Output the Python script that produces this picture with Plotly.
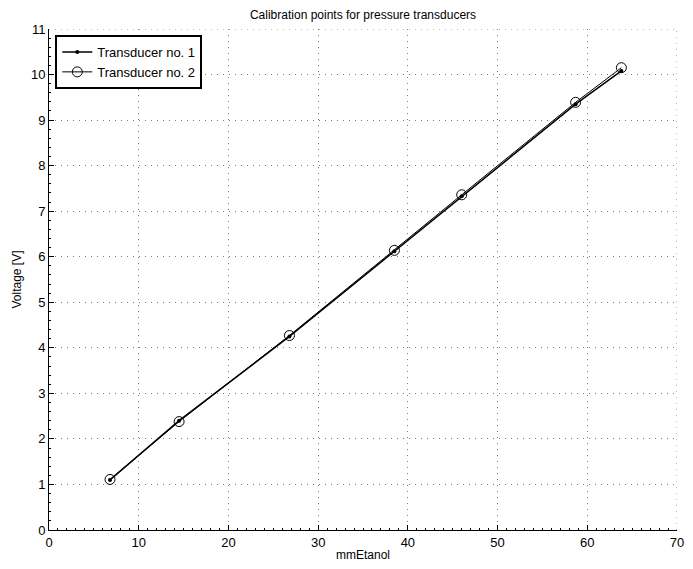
import plotly.graph_objects as go

# Calibration readings: height of ethanol column vs transducer output
mm_etanol = [6.8, 14.5, 26.8, 38.5, 46.0, 58.7, 63.8]
voltage_t1 = [1.10, 2.40, 4.25, 6.12, 7.33, 9.35, 10.08]
voltage_t2 = [1.11, 2.38, 4.27, 6.14, 7.36, 9.39, 10.15]

x_ticks = [0, 10, 20, 30, 40, 50, 60, 70]
y_ticks = list(range(0, 12))

FONT = "Liberation Sans, Arial, sans-serif"
GRID = "#7a7a7a"

fig = go.Figure()
fig.add_trace(go.Scatter(
    x=mm_etanol, y=voltage_t1, mode="lines+markers",
    name="Transducer no. 1",
    line=dict(color="black", width=1.5),
    marker=dict(symbol="circle", size=4, color="black"),
))
fig.add_trace(go.Scatter(
    x=mm_etanol, y=voltage_t2, mode="lines+markers",
    name="Transducer no. 2",
    line=dict(color="black", width=1),
    marker=dict(symbol="circle-open", size=10, color="black", line=dict(width=1)),
))

axis_common = dict(
    showline=True, linecolor="black", linewidth=1,
    ticks="inside", ticklen=5, tickcolor="black", tickwidth=1,
    showgrid=True, gridcolor=GRID, gridwidth=1, griddash="1px,5px",
    zeroline=False, mirror=False,
    tickfont=dict(family=FONT, size=13, color="black"),
    title_font=dict(family=FONT, size=12, color="black"),
)

fig.update_xaxes(
    range=[x_ticks[0], x_ticks[-1]], tickvals=x_ticks, title_text="mmEtanol", title_standoff=2,
    minor=dict(ticks="inside", ticklen=2, tickcolor="black", dtick=1, showgrid=False),
    **axis_common,
)
fig.update_yaxes(
    range=[y_ticks[0], y_ticks[-1]], tickvals=y_ticks, title_text="Voltage [V]", title_standoff=6,
    minor=dict(ticks="inside", ticklen=2, tickcolor="black", dtick=0.2, showgrid=False),
    **axis_common,
)

# dotted grid lines along the far edges of the axes box
fig.add_shape(type="line", xref="x", yref="paper", x0=x_ticks[-1], x1=x_ticks[-1], y0=0, y1=1,
              line=dict(color=GRID, width=1, dash="1px,5px"), layer="below")
fig.add_shape(type="line", xref="paper", yref="y", x0=0, x1=1, y0=y_ticks[-1], y1=y_ticks[-1],
              line=dict(color=GRID, width=1, dash="1px,5px"), layer="below")

fig.update_layout(
    width=693, height=569,
    margin=dict(l=49, r=9, t=29, b=39),
    paper_bgcolor="white", plot_bgcolor="white",
    title=dict(
        text="Calibration points for pressure transducers",
        x=0.5, xref="paper", y=0.982, yref="container", yanchor="top",
        font=dict(family=FONT, size=12, color="black"),
    ),
    legend=dict(
        x=0.01, y=0.988, xanchor="left", yanchor="top",
        bgcolor="white", bordercolor="black", borderwidth=2,
        font=dict(family=FONT, size=13, color="black"),
        tracegroupgap=0, itemwidth=30,
    ),
    showlegend=True,
)

fig.write_html("out.html")
